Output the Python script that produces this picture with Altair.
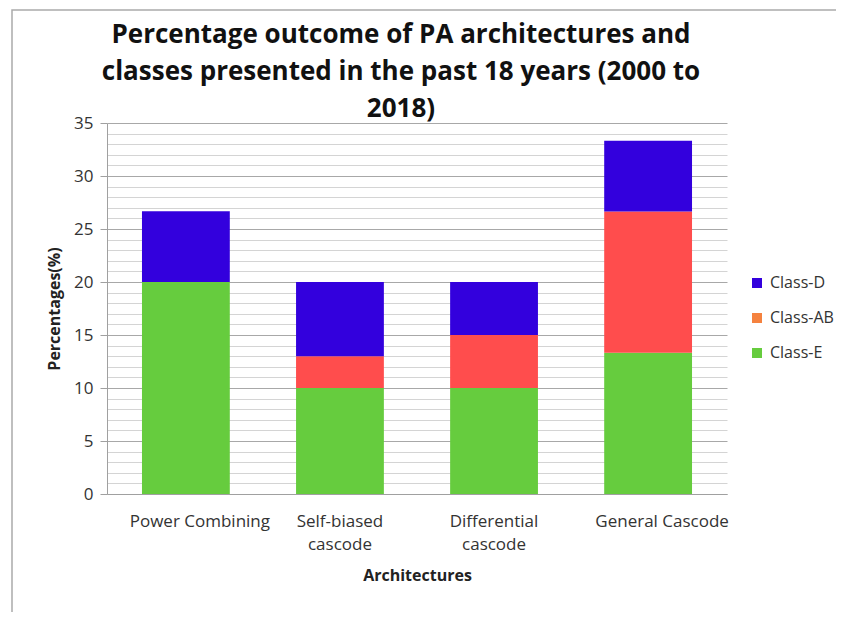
import altair as alt
import pandas as pd

archs = ["Power Combining", "Self-biased cascode", "Differential cascode", "General Cascode"]
classes = ["Class-D", "Class-AB", "Class-E"]
class_e = [20, 10, 10, 13.33]
class_ab = [0, 3, 5, 13.33]
class_d = [6.67, 7, 5, 6.67]

legend_colors = ["#3300DD", "#F5823F", "#66CC3E"]
bar_colors = ["#3300DD", "#FF4D4D", "#66CC3E"]
stack_order = {"Class-E": 0, "Class-AB": 1, "Class-D": 2}

rows = []
for i, a in enumerate(archs):
    for cls, vals in (("Class-E", class_e), ("Class-AB", class_ab), ("Class-D", class_d)):
        rows.append({"arch": a, "cls": cls, "val": vals[i], "ord": stack_order[cls]})
df = pd.DataFrame(rows)
legend_df = pd.DataFrame({"Class": classes})

FONT = "Open Sans"

x_enc = alt.X("arch:N", sort=archs,
              scale=alt.Scale(paddingInner=0.43, paddingOuter=0.227),
              axis=alt.Axis(title="Architectures", labelAngle=0, ticks=False,
                            domain=True, domainColor="#a0a0a0",
                            labelFont=FONT, labelFontSize=17, labelColor="#333333",
                            labelPadding=19, labelLineHeight=23,
                            labelOffset={"condition": {"test": "indexof(datum.label, ' cascode') > 0", "value": 0}, "value": 14},
                            labelExpr="indexof(datum.label, ' cascode') > 0 ? [replace(datum.label, ' cascode', ''), 'cascode'] : datum.label",
                            titleFont=FONT, titleFontSize=16, titleFontWeight="bold",
                            titleColor="#222222", titlePadding=15))

bars = alt.Chart(df).mark_bar(strokeWidth=0).encode(
    x=x_enc,
    y=alt.Y("val:Q", stack="zero",
            scale=alt.Scale(domain=[0, 35], nice=False),
            axis=alt.Axis(title="Percentages(%)", values=list(range(0, 36)),
                          labelExpr="datum.value % 5 === 0 ? datum.label : ''",
                          grid=True,
                          gridColor={"condition": {"test": "datum.value % 5 === 0", "value": "#a8a8a8"}, "value": "#d4d4d4"},
                          tickColor={"condition": {"test": "datum.value % 5 === 0", "value": "#a0a0a0"}, "value": "transparent"},
                          tickSize=7, domainColor="#a0a0a0",
                          labelFont=FONT, labelFontSize=17, labelColor="#333333",
                          labelPadding=7,
                          titleFont=FONT, titleFontSize=16, titleFontWeight="bold",
                          titleColor="#222222", titlePadding=11)),
    color=alt.Color("cls:N", scale=alt.Scale(domain=classes, range=bar_colors), legend=None),
    order=alt.Order("ord:Q"),
)

# legend drawn as marks (swatch colours as in the original legend)
leg_y = alt.Y("Class:N", sort=classes,
              scale=alt.Scale(domain=classes, range=[160, 230], padding=0), axis=None)
leg_sq = alt.Chart(legend_df).mark_square(size=100, opacity=1, strokeWidth=0).encode(
    x=alt.value(650), y=leg_y,
    color=alt.Color("Class:N", scale=alt.Scale(domain=classes, range=legend_colors), legend=None),
)
leg_txt = alt.Chart(legend_df).mark_text(
    align="left", baseline="middle", dx=13, font=FONT, fontSize=16, color="#333333"
).encode(x=alt.value(650), y=leg_y, text="Class:N")
legend = alt.layer(leg_sq, leg_txt)

frame = alt.Chart(pd.DataFrame({"a": [0]})).mark_rect(
    fill="transparent", stroke="#ababab", strokeWidth=1.5
).encode(
    x=alt.value(-95), x2=alt.value(800), y=alt.value(-113), y2=alt.value(600)
)

chart = alt.layer(frame, bars, legend).resolve_scale(
    y="independent", color="independent"
).properties(
    width=620, height=371,
    title=alt.TitleParams(
        text=["Percentage outcome of PA architectures and",
              "classes presented in the past 18 years (2000 to",
              "2018)"],
        font=FONT, fontSize=26, fontWeight="bold", color="#111111",
        anchor="middle", lineHeight=37, dx=-16, offset=-113),
    autosize=alt.AutoSizeParams(type="none"),
    padding={"left": 99, "top": 115, "right": 109, "bottom": 118},
).configure_view(stroke=None)

chart.save("out.html", embed_options={"renderer": "svg", "actions": False})
